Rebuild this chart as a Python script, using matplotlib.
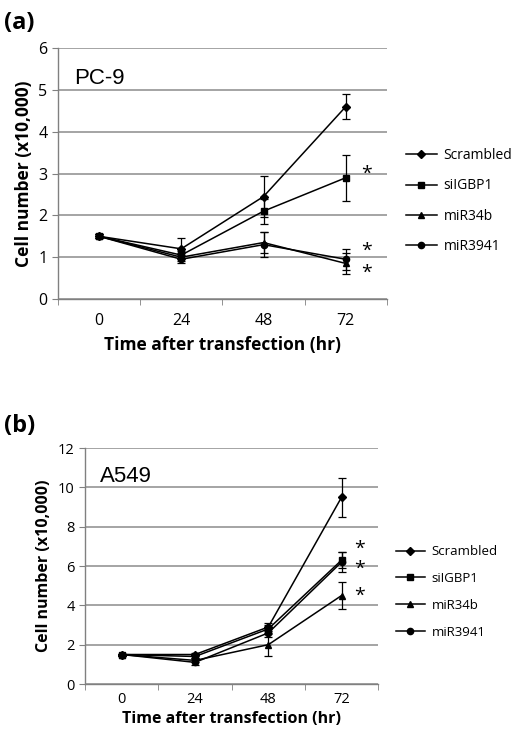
import numpy as np
import matplotlib.pyplot as plt
from matplotlib.lines import Line2D

# ---- data ----
times = ["0", "24", "48", "72"]
series = ["Scrambled", "siIGBP1", "miR34b", "miR3941"]
markers = ["D", "s", "^", "o"]

pc9_scrambled = [1.5, 1.2, 2.45, 4.6]
pc9_scrambled_err = [0.05, 0.25, 0.5, 0.3]
pc9_siigbp1 = [1.5, 1.05, 2.1, 2.9]
pc9_siigbp1_err = [0.05, 0.1, 0.3, 0.55]
pc9_mir34b = [1.5, 1.0, 1.35, 0.85]
pc9_mir34b_err = [0.05, 0.1, 0.25, 0.25]
pc9_mir3941 = [1.5, 0.95, 1.3, 0.95]
pc9_mir3941_err = [0.05, 0.1, 0.3, 0.25]
pc9_stars = [3.0, 1.14, 0.62]

a549_scrambled = [1.5, 1.5, 2.9, 9.5]
a549_scrambled_err = [0.05, 0.1, 0.2, 1.0]
a549_siigbp1 = [1.5, 1.4, 2.8, 6.3]
a549_siigbp1_err = [0.05, 0.1, 0.2, 0.4]
a549_mir34b = [1.5, 1.2, 2.0, 4.5]
a549_mir34b_err = [0.05, 0.1, 0.55, 0.7]
a549_mir3941 = [1.5, 1.1, 2.6, 6.2]
a549_mir3941_err = [0.05, 0.15, 0.2, 0.5]
a549_stars = [6.85, 5.85, 4.5]

plt.rcParams['font.family'] = ['Open Sans', 'DejaVu Sans']

fig = plt.figure(figsize=(5.16, 7.34), dpi=100)


def panel(rect, vals, errs, ymax, ystep, cell, stars, tick_fs, lab_fs, leg_fs,
          leg_y, leg_sp, tick_pad, lab_pad):
    ax = fig.add_axes(rect)
    x = np.arange(len(times))
    for v, e, m in zip(vals, errs, markers):
        ax.errorbar(x, v, yerr=e, color="black", marker=m, markersize=4.5,
                    lw=1.1, elinewidth=0.9, capsize=3, capthick=0.9)
    ax.set_xlim(-0.5, 3.5)
    ax.set_ylim(0, ymax)
    ax.set_yticks(np.arange(0, ymax + 0.01, ystep))
    ax.set_xticks(x)
    ax.set_xticklabels(times)
    ax.set_xticks(np.arange(-0.5, 3.6, 1), minor=True)
    ax.tick_params(axis="x", which="major", length=0, labelsize=tick_fs, pad=tick_pad)
    ax.tick_params(axis="x", which="minor", length=4, color="#808080", direction="out")
    ax.tick_params(axis="y", length=4, color="#808080", labelsize=tick_fs)
    ax.yaxis.grid(True, color="#8c8c8c", lw=1.1)
    ax.set_axisbelow(True)
    for s in ["top", "right"]:
        ax.spines[s].set_visible(False)
    for s in ["left", "bottom"]:
        ax.spines[s].set_color("#808080")
        ax.spines[s].set_linewidth(1.0)
    ax.set_ylabel("Cell number (x10,000)", fontsize=lab_fs, fontweight="bold")
    ax.set_xlabel("Time after transfection (hr)", fontsize=lab_fs, fontweight="bold",
                  labelpad=lab_pad)
    ax.text(0.05, 0.88, cell, transform=ax.transAxes, fontsize=16,
            family="Liberation Sans", va="center")
    for sy in stars:
        ax.text(3.25, sy, "*", fontsize=14, ha="center", va="center", clip_on=False)
    handles = [Line2D([], [], color="black", marker=m, markersize=4.5, lw=1.1)
               for m in markers]
    ax.legend(handles, series, loc="center left", bbox_to_anchor=(1.02, leg_y),
              frameon=False, fontsize=leg_fs, handlelength=2.2,
              labelspacing=leg_sp, handletextpad=0.5)
    return ax


panel([0.112, 0.5926, 0.638, 0.342],
      [pc9_scrambled, pc9_siigbp1, pc9_mir34b, pc9_mir3941],
      [pc9_scrambled_err, pc9_siigbp1_err, pc9_mir34b_err, pc9_mir3941_err],
      6, 1, "PC-9", pc9_stars, 11.5, 12.5, 10, 0.39, 1.1, 10, 5)
fig.text(0.008, 0.968, "(a)", fontsize=17, fontweight="bold", va="center")

panel([0.165, 0.0681, 0.568, 0.3215],
      [a549_scrambled, a549_siigbp1, a549_mir34b, a549_mir3941],
      [a549_scrambled_err, a549_siigbp1_err, a549_mir34b_err, a549_mir3941_err],
      12, 2, "A549", a549_stars, 10.5, 11.5, 9.5, 0.39, 1.05, 6, 2.5)
fig.text(0.008, 0.42, "(b)", fontsize=17, fontweight="bold", va="center")

fig.savefig("out.png", dpi=100)
